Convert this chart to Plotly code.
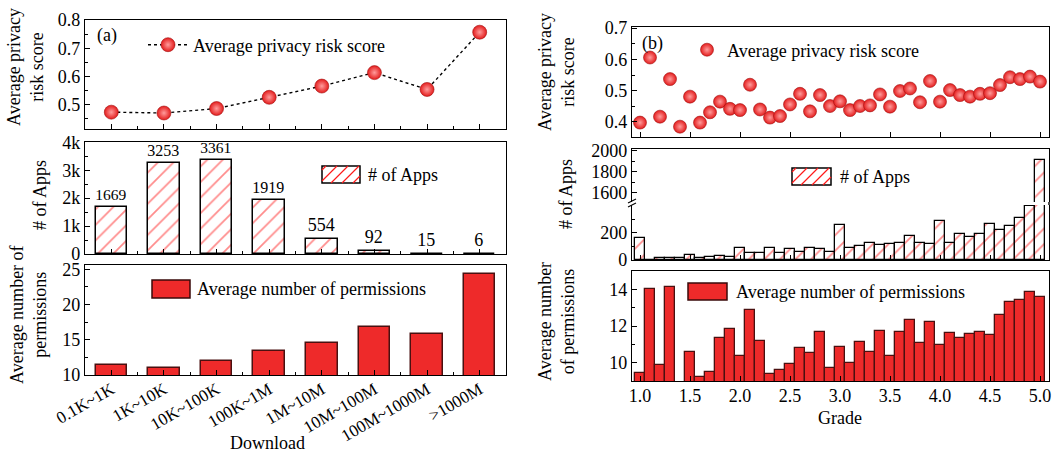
import plotly.graph_objects as go

W, H = 1064, 454
FONT = "Liberation Serif"
RED = "#ee2a2a"

# ---------------- data ----------------
downloads = ["0.1K~1K", "1K~10K", "10K~100K", "100K~1M", "1M~10M",
             "10M~100M", "100M~1000M", ">1000M"]
risk_a = [0.472, 0.469, 0.485, 0.525, 0.565, 0.613, 0.553, 0.757]
apps_a = [1669, 3253, 3361, 1919, 554, 92, 15, 6]
perm_a = [11.45, 10.97, 11.93, 13.43, 14.59, 16.81, 15.75, 24.35]

grades = [1.0, 1.1, 1.2, 1.3, 1.4, 1.5, 1.6, 1.7, 1.8, 1.9,
          2.0, 2.1, 2.2, 2.3, 2.4, 2.5, 2.6, 2.7, 2.8, 2.9,
          3.0, 3.1, 3.2, 3.3, 3.4, 3.5, 3.6, 3.7, 3.8, 3.9,
          4.0, 4.1, 4.2, 4.3, 4.4, 4.5, 4.6, 4.7, 4.8, 4.9, 5.0]
risk_b = [0.398, 0.606, 0.417, 0.537, 0.385, 0.481, 0.398, 0.431, 0.465, 0.442,
          0.438, 0.519, 0.440, 0.414, 0.419, 0.456, 0.490, 0.434, 0.486, 0.451,
          0.466, 0.438, 0.451, 0.453, 0.488, 0.449, 0.499, 0.507, 0.463, 0.531,
          0.465, 0.502, 0.486, 0.481, 0.490, 0.492, 0.518, 0.543, 0.537, 0.545, 0.529]
apps_b = [158, 3, 18, 12, 12, 39, 17, 24, 32, 22,
          85, 49, 49, 88, 49, 78, 56, 85, 78, 61,
          256, 90, 102, 127, 107, 115, 122, 178, 127, 117,
          288, 127, 188, 166, 188, 261, 217, 246, 310, 395, 1912]
perm_b = [9.42, 14.0, 9.87, 14.15, 8.8, 10.58, 9.2, 9.5, 11.33, 11.85,
          10.38, 12.9, 11.18, 9.36, 9.62, 9.95, 10.82, 10.53, 11.69, 9.69,
          10.87, 9.98, 11.11, 10.56, 11.73, 10.36, 11.69, 12.33, 11.07, 12.22,
          10.95, 11.64, 11.35, 11.58, 11.65, 11.53, 12.62, 13.31, 13.4, 13.85, 13.56]


def xd(l, r):
    return [l / W, r / W]


def yd(t, b):
    return [1 - b / H, 1 - t / H]


def px(x):
    return x / W


def py(y):
    return 1 - y / H


tickfont = dict(family=FONT, size=18, color="black")
axcommon = dict(showline=True, linecolor="black", linewidth=1.4, ticks="inside",
                tickcolor="black", tickwidth=1.2, ticklen=5, showgrid=False,
                zeroline=False, tickfont=tickfont, automargin=False)

marker_sphere = dict(color="#e41c1c", line=dict(color="#a01010", width=0.6),
                     gradient=dict(type="radial", color="#ff9c9c"))
hatch = dict(shape="/", fgcolor="#ff1a1a", bgcolor="white", size=11, solidity=0.16)

fig = go.Figure()

# ---------- panel (a) ----------
fig.add_trace(go.Scatter(x=list(range(len(downloads))), y=risk_a, mode="lines+markers",
                         name="Average privacy risk score",
                         line=dict(color="black", dash="dot", width=1.4),
                         marker=dict(size=14, **marker_sphere),
                         xaxis="x", yaxis="y", legend="legend"))
fig.add_trace(go.Bar(x=list(range(len(downloads))), y=apps_a, width=0.6,
                     marker=dict(color="white", pattern=hatch,
                                 line=dict(color="black", width=1.5)),
                     text=[str(v) for v in apps_a], textposition="outside",
                     textfont=dict(family=FONT, size=18, color="black"),
                     cliponaxis=False, showlegend=False, xaxis="x2", yaxis="y2"))
fig.add_trace(go.Bar(x=list(range(len(downloads))), y=perm_a, width=0.6,
                     marker=dict(color=RED, line=dict(color="#4a1010", width=1.5)),
                     showlegend=False, xaxis="x3", yaxis="y3"))

# ---------- panel (b) ----------
fig.add_trace(go.Scatter(x=grades, y=risk_b, mode="markers",
                         name="Average privacy risk score",
                         marker=dict(size=13, **marker_sphere),
                         xaxis="x4", yaxis="y4", legend="legend2"))
for xa, ya in (("x5", "y5"), ("x6", "y6")):
    fig.add_trace(go.Bar(x=grades, y=apps_b, width=0.1,
                         marker=dict(color="white", pattern=hatch,
                                     line=dict(color="black", width=1.3)),
                         showlegend=False, xaxis=xa, yaxis=ya))
fig.add_trace(go.Bar(x=grades, y=perm_b, width=0.1,
                     marker=dict(color=RED, line=dict(color="#4a1010", width=1.3)),
                     showlegend=False, xaxis="x7", yaxis="y7"))

A_X = xd(85, 506)
B_X = xd(632, 1049)
a_range = [-0.5, 7.5]
b_range = [0.92, 5.09]
cat_minor = dict(ticks="inside", ticklen=3, tickcolor="black", tick0=0.5, dtick=1)

layout = dict(
    width=W, height=H, margin=dict(l=0, r=0, t=0, b=0, autoexpand=False),
    plot_bgcolor="white", paper_bgcolor="white", bargap=0,
    font=dict(family=FONT, color="black"),
    xaxis=dict(domain=A_X, anchor="y", range=a_range, tickmode="array",
               tickvals=list(range(8)), showticklabels=False, mirror=True,
               minor=cat_minor, **axcommon),
    yaxis=dict(domain=yd(20, 129), anchor="x", range=[0.412, 0.8005],
               tickvals=[0.5, 0.6, 0.7, 0.8], tickformat=".1f", mirror=True,
               minor=dict(ticks="inside", ticklen=3, tickcolor="black", tick0=0.45, dtick=0.1),
               **axcommon),
    xaxis2=dict(domain=A_X, anchor="y2", range=a_range, tickmode="array",
                tickvals=list(range(8)), showticklabels=False, mirror=True,
                minor=cat_minor, **axcommon),
    yaxis2=dict(domain=yd(142, 254), anchor="x2", range=[0, 4010],
                tickvals=[0, 1000, 2000, 3000, 4000], ticktext=["0", "1k", "2k", "3k", "4k"],
                mirror=True,
                minor=dict(ticks="inside", ticklen=3, tickcolor="black", tick0=500, dtick=1000),
                **axcommon),
    xaxis3=dict(domain=A_X, anchor="y3", range=a_range, tickmode="array",
                tickvals=list(range(8)), ticktext=downloads, tickangle=-30, mirror=True,
                minor=cat_minor, ticklabelstandoff=-3,
                **{k: v for k, v in axcommon.items() if k != "tickfont"},
                tickfont=dict(family=FONT, size=17, color="black")),
    yaxis3=dict(domain=yd(265, 375), anchor="x3", range=[10, 25.6],
                tickvals=[10, 15, 20, 25], mirror=True,
                minor=dict(ticks="inside", ticklen=3, tickcolor="black", tick0=12.5, dtick=5),
                **axcommon),
    xaxis4=dict(domain=B_X, anchor="y4", range=b_range, tick0=1.0, dtick=0.5,
                showticklabels=False, mirror=True, **axcommon),
    yaxis4=dict(domain=yd(27, 137), anchor="x4", range=[0.352, 0.7035],
                tickvals=[0.4, 0.5, 0.6, 0.7], tickformat=".1f", mirror=True,
                minor=dict(ticks="inside", ticklen=3, tickcolor="black", tick0=0.45, dtick=0.1),
                **axcommon),
    xaxis5=dict(domain=B_X, anchor="y5", range=b_range, tick0=1.0, dtick=0.5,
                showticklabels=False, mirror=False, **axcommon),
    yaxis5=dict(domain=yd(205, 260), anchor="x5", range=[0, 403],
                tickvals=[0, 200], mirror=True,
                minor=dict(ticks="inside", ticklen=3, tickcolor="black", tick0=100, dtick=200),
                **axcommon),
    xaxis6=dict(domain=B_X, anchor="y6", range=b_range, side="top",
                showticklabels=False, showline=True, linecolor="black", linewidth=1.4,
                ticks="", showgrid=False, zeroline=False, automargin=False),
    yaxis6=dict(domain=yd(149, 202), anchor="x6", range=[1514, 2019],
                tickvals=[1600, 1800, 2000], mirror=True,
                minor=dict(ticks="inside", ticklen=3, tickcolor="black", tick0=1700, dtick=200),
                **axcommon),
    xaxis7=dict(domain=B_X, anchor="y7", range=b_range, tick0=1.0, dtick=0.5,
                tickformat=".1f", mirror=True, ticklabelstandoff=-2, **axcommon),
    yaxis7=dict(domain=yd(271, 381), anchor="x7", range=[9, 15],
                tickvals=[10, 12, 14], mirror=True,
                minor=dict(ticks="inside", ticklen=3, tickcolor="black", tick0=11, dtick=2),
                **axcommon),
    legend=dict(x=px(143), y=py(45), xanchor="left", yanchor="middle",
                bgcolor="rgba(0,0,0,0)", itemwidth=40,
                font=dict(family=FONT, size=18, color="black")),
    legend2=dict(x=px(687), y=py(50), xanchor="left", yanchor="middle",
                 bgcolor="rgba(0,0,0,0)", itemwidth=30,
                 font=dict(family=FONT, size=18, color="black")),
)
fig.update_layout(**layout)

shapes = []
annotations = []


def hatched_box(x0, y0, x1, y1):
    shapes.append(dict(type="rect", xref="paper", yref="paper", x0=px(x0), x1=px(x1),
                       y0=py(y1), y1=py(y0), fillcolor="white",
                       line=dict(color="black", width=1.5)))
    h = y1 - y0
    step = 11
    k = x0 - h + 4
    segs = []
    while k < x1:
        sx, sy, ex, ey = k, y1, k + h, y0
        if sx < x0:
            sy = y1 - (x0 - sx)
            sx = x0
        if ex > x1:
            ey = y0 + (ex - x1)
            ex = x1
        if ex > sx:
            segs.append(f"M{px(sx):.5f},{py(sy):.5f} L{px(ex):.5f},{py(ey):.5f}")
        k += step
    shapes.append(dict(type="path", xref="paper", yref="paper", path=" ".join(segs),
                       line=dict(color="#ff1a1a", width=1.2)))


def solid_box(x0, y0, x1, y1):
    shapes.append(dict(type="rect", xref="paper", yref="paper", x0=px(x0), x1=px(x1),
                       y0=py(y1), y1=py(y0), fillcolor=RED,
                       line=dict(color="#3a0a0a", width=1.5)))


def text(x, y, s, size=18, angle=0, xanchor="left"):
    annotations.append(dict(x=px(x), y=py(y), xref="paper", yref="paper", text=s,
                            showarrow=False, textangle=angle, xanchor=xanchor,
                            yanchor="middle",
                            font=dict(family=FONT, size=size, color="black")))


# legends for bars
hatched_box(322, 166, 360, 183)
text(366, 175, "# of Apps")
solid_box(152, 280, 190, 298)
text(195, 289, "Average number of permissions")
hatched_box(792, 168, 831, 185)
text(838, 177, "# of Apps")
solid_box(688, 283, 727, 300)
text(734, 292, "Average number of permissions")

# right edge of broken panel and break marks
shapes.append(dict(type="line", xref="paper", yref="paper", x0=B_X[1], x1=B_X[1],
                   y0=py(205), y1=py(202), line=dict(color="black", width=1.4)))
for yy in (201, 205):
    shapes.append(dict(type="line", xref="paper", yref="paper", x0=px(628), x1=px(636),
                       y0=py(yy + 2), y1=py(yy - 2), line=dict(color="black", width=1.2)))

# panel labels
text(107, 36, "(a)", xanchor="center")
text(652, 44, "(b)", xanchor="center")

# axis titles
text(25, 67, "Average privacy<br>risk score", angle=-90, xanchor="center")
text(40, 195, "# of Apps", angle=-90, xanchor="center")
text(28, 315, "Average number of<br>permissions", angle=-90, xanchor="center")
text(556, 72, "Average privacy<br>risk score", angle=-90, xanchor="center")
text(566, 194, "# of Apps", angle=-90, xanchor="center")
text(556, 322, "Average number<br>of permissions", angle=-90, xanchor="center")
text(267, 443, "Download", xanchor="center")
text(840, 418, "Grade", xanchor="center")

fig.update_layout(shapes=shapes, annotations=annotations)
fig.write_html("out.html", config={"displayModeBar": False},
               post_script="document.body.style.margin='0px';")
